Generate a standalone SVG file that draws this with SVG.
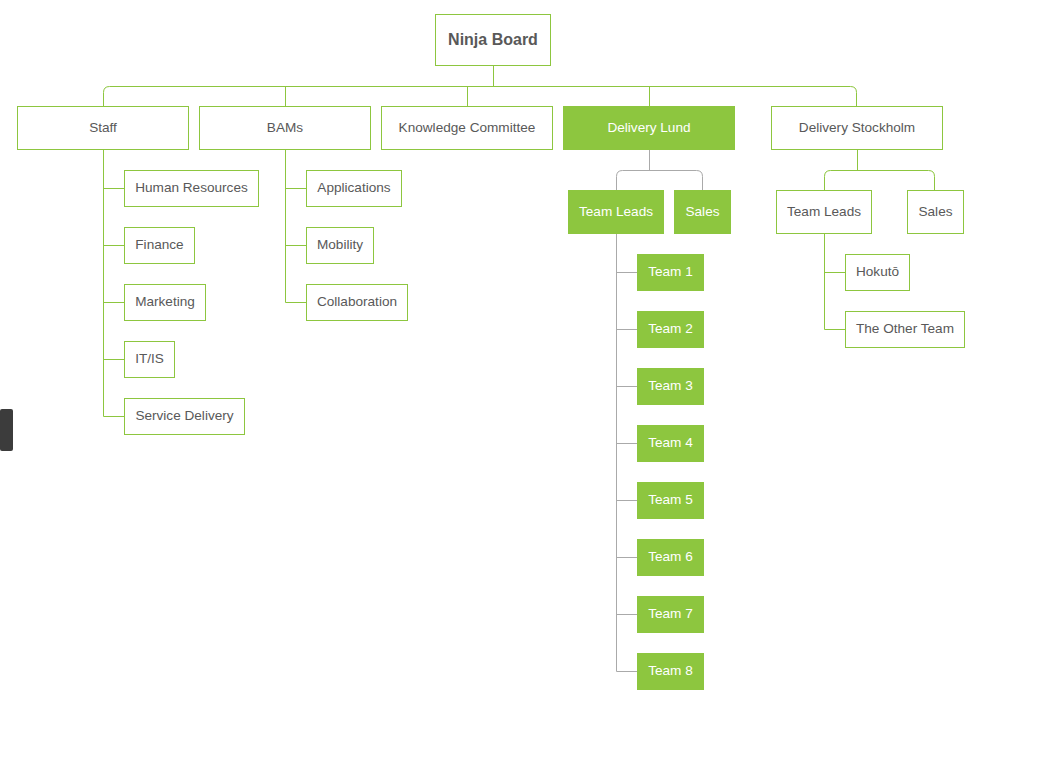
<svg xmlns="http://www.w3.org/2000/svg" width="1055" height="777" viewBox="0 0 1055 777">
<style>
.n rect{fill:#fff;stroke:#8dc63f;stroke-width:1}
.f rect{fill:#8dc63f;stroke:#8dc63f;stroke-width:1}
text{font-family:"Liberation Sans",Arial,sans-serif;font-size:13.6px;fill:#595959;text-anchor:middle;dominant-baseline:central}
.f text{fill:#fff}
.b text{font-size:16px;font-weight:bold}
.c path{fill:none;stroke:#8dc63f;stroke-width:1}
.c path.g{stroke:#aaa}
</style>
<rect width="1055" height="777" fill="#fff"/>
<g id="connectors" class="c">
<path d="M493.5 65V86.5"/>
<path d="M103.5 106V92.5Q103.5 86.5 109.5 86.5H850.5Q856.5 86.5 856.5 92.5V106"/>
<path d="M285.5 86.5V106M467.5 86.5V106M649.5 86.5V106"/>
<path d="M103.5 149V416.5M103.5 188.5H124M103.5 245.5H124M103.5 302.5H124M103.5 359.5H124M103.5 416.5H124"/>
<path d="M285.5 149V302.5M285.5 188.5H306M285.5 245.5H306M285.5 302.5H306"/>
<path class="g" d="M649.5 149V170.5M616.5 190V176.5Q616.5 170.5 622.5 170.5H696.5Q702.5 170.5 702.5 176.5V190"/>
<path class="g" d="M616.5 233V671.5M616.5 272.5H637M616.5 329.5H637M616.5 386.5H637M616.5 443.5H637M616.5 500.5H637M616.5 557.5H637M616.5 614.5H637M616.5 671.5H637"/>
<path d="M857.5 149V170.5M824.5 190V176.5Q824.5 170.5 830.5 170.5H928.5Q934.5 170.5 934.5 176.5V190"/>
<path d="M824.5 233V329.5M824.5 272.5H845M824.5 329.5H845"/>
</g>
<g id="ninja-board" class="n b"><rect x="435.5" y="14.5" width="115" height="51"/><text x="493" y="39.5">Ninja Board</text></g>
<g id="staff" class="n"><rect x="17.5" y="106.5" width="171" height="43"/><text x="103" y="127.5">Staff</text></g>
<g id="bams" class="n"><rect x="199.5" y="106.5" width="171" height="43"/><text x="285" y="127.5">BAMs</text></g>
<g id="knowledge-committee" class="n"><rect x="381.5" y="106.5" width="171" height="43"/><text x="467" y="127.5">Knowledge Committee</text></g>
<g id="delivery-lund" class="f"><rect x="563.5" y="106.5" width="171" height="43"/><text x="649" y="127.5">Delivery Lund</text></g>
<g id="delivery-stockholm" class="n"><rect x="771.5" y="106.5" width="171" height="43"/><text x="857" y="127.5">Delivery Stockholm</text></g>
<g id="human-resources" class="n"><rect x="124.5" y="170.5" width="134" height="36"/><text x="191.5" y="187.5">Human Resources</text></g>
<g id="finance" class="n"><rect x="124.5" y="227.5" width="70" height="36"/><text x="159.5" y="244.5">Finance</text></g>
<g id="marketing" class="n"><rect x="124.5" y="284.5" width="81" height="36"/><text x="165" y="301.5">Marketing</text></g>
<g id="it-is" class="n"><rect x="124.5" y="341.5" width="50" height="36"/><text x="149.5" y="358.5">IT/IS</text></g>
<g id="service-delivery" class="n"><rect x="124.5" y="398.5" width="120" height="36"/><text x="184.5" y="415.5">Service Delivery</text></g>
<g id="applications" class="n"><rect x="306.5" y="170.5" width="95" height="36"/><text x="354" y="187.5">Applications</text></g>
<g id="mobility" class="n"><rect x="306.5" y="227.5" width="67" height="36"/><text x="340" y="244.5">Mobility</text></g>
<g id="collaboration" class="n"><rect x="306.5" y="284.5" width="101" height="36"/><text x="357" y="301.5">Collaboration</text></g>
<g id="lund-team-leads" class="f"><rect x="568.5" y="190.5" width="95" height="43"/><text x="616" y="211.5">Team Leads</text></g>
<g id="lund-sales" class="f"><rect x="674.5" y="190.5" width="56" height="43"/><text x="702.5" y="211.5">Sales</text></g>
<g id="team-1" class="f"><rect x="637.5" y="254.5" width="66" height="36"/><text x="670.5" y="271.5">Team 1</text></g>
<g id="team-2" class="f"><rect x="637.5" y="311.5" width="66" height="36"/><text x="670.5" y="328.5">Team 2</text></g>
<g id="team-3" class="f"><rect x="637.5" y="368.5" width="66" height="36"/><text x="670.5" y="385.5">Team 3</text></g>
<g id="team-4" class="f"><rect x="637.5" y="425.5" width="66" height="36"/><text x="670.5" y="442.5">Team 4</text></g>
<g id="team-5" class="f"><rect x="637.5" y="482.5" width="66" height="36"/><text x="670.5" y="499.5">Team 5</text></g>
<g id="team-6" class="f"><rect x="637.5" y="539.5" width="66" height="36"/><text x="670.5" y="556.5">Team 6</text></g>
<g id="team-7" class="f"><rect x="637.5" y="596.5" width="66" height="36"/><text x="670.5" y="613.5">Team 7</text></g>
<g id="team-8" class="f"><rect x="637.5" y="653.5" width="66" height="36"/><text x="670.5" y="670.5">Team 8</text></g>
<g id="stockholm-team-leads" class="n"><rect x="776.5" y="190.5" width="95" height="43"/><text x="824" y="211.5">Team Leads</text></g>
<g id="stockholm-sales" class="n"><rect x="907.5" y="190.5" width="56" height="43"/><text x="935.5" y="211.5">Sales</text></g>
<g id="hokuto" class="n"><rect x="845.5" y="254.5" width="64" height="36"/><text x="877.5" y="271.5">Hokutō</text></g>
<g id="the-other-team" class="n"><rect x="845.5" y="311.5" width="119" height="36"/><text x="905" y="328.5">The Other Team</text></g>
<rect x="0" y="409" width="13" height="42" rx="2" fill="#3c3c3c"/>
</svg>
